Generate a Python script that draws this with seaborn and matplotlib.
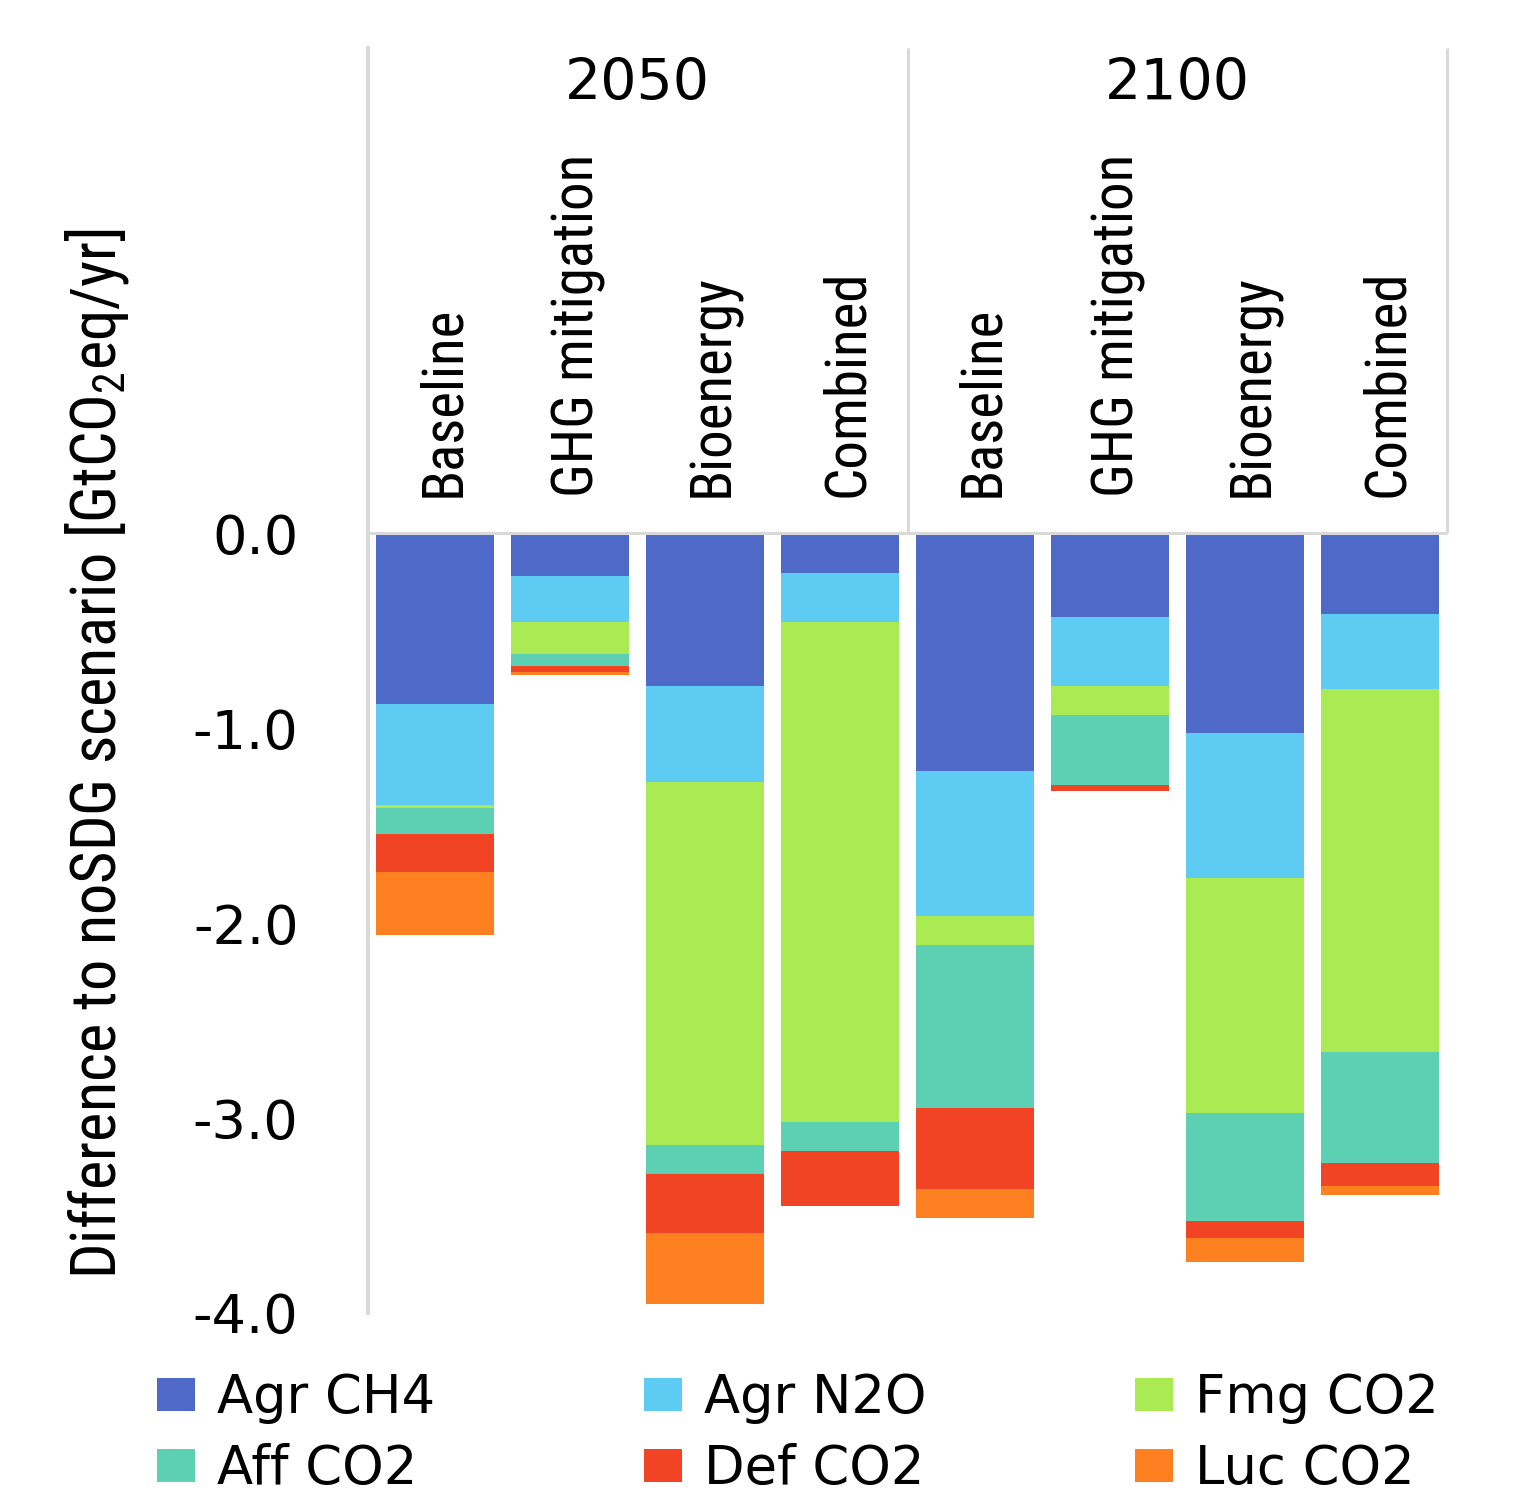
import numpy as np
import pandas as pd
import matplotlib
matplotlib.use("Agg")
import matplotlib.pyplot as plt
import matplotlib.transforms as mtransforms
from matplotlib import font_manager as fm
from matplotlib.patches import Patch
import seaborn as sns

# ---- data -------------------------------------------------------------
years = ["2050", "2100"]
scenarios = ["Baseline", "GHG mitigation", "Bioenergy", "Combined"]

components = ["Agr CH4", "Agr N2O", "Fmg CO2", "Aff CO2", "Def CO2", "Luc CO2"]
colors = ["#4F69C9", "#5ECBF2", "#AAEB53", "#5DCFB2", "#F04424", "#FF8020"]

# one value per bar: 2050 (4 scenarios) then 2100 (4 scenarios), GtCO2eq/yr
agr_ch4 = [-0.875, -0.219, -0.783, -0.204, -1.219, -0.429, -1.024, -0.414]
agr_n2o = [-0.518, -0.236, -0.492, -0.251, -0.743, -0.354, -0.744, -0.385]
fmg_co2 = [-0.015, -0.164, -1.862, -2.564, -0.149, -0.149, -1.205, -1.861]
aff_co2 = [-0.134, -0.062, -0.149, -0.149, -0.836, -0.359, -0.554, -0.569]
def_co2 = [-0.195, -0.031, -0.303, -0.282, -0.416, -0.031, -0.087, -0.118]
luc_co2 = [-0.326, -0.015, -0.367, 0.000, -0.149, 0.000, -0.123, -0.046]

yticks = [0.0, -1.0, -2.0, -3.0, -4.0]
ytick_labels = ["0.0", "-1.0", "-2.0", "-3.0", "-4.0"]
ylabel = "Difference to noSDG scenario [GtCO$_2$eq/yr]"

# ---- fonts ------------------------------------------------------------
sns.set_style("white")
available = {f.name for f in fm.fontManager.ttflist}


def pick(*names):
    for n in names:
        if n in available:
            return n
    return "DejaVu Sans"


narrow = pick("Liberation Sans Narrow", "DejaVu Sans Condensed", "Roboto Condensed", "Liberation Sans")
wide = "DejaVu Sans"
plt.rcParams["font.family"] = [wide]
plt.rcParams["text.color"] = "black"
plt.rcParams["mathtext.fontset"] = "custom"
plt.rcParams["mathtext.rm"] = narrow
plt.rcParams["mathtext.default"] = "regular"

# ---- long table -------------------------------------------------------
bar_ids = [f"{y} {s}" for y in years for s in scenarios]
values = np.array([agr_ch4, agr_n2o, fmg_co2, aff_co2, def_co2, luc_co2])
cum = np.cumsum(values, axis=0)
rows = []
for k, comp in enumerate(components):
    for i, b in enumerate(bar_ids):
        rows.append({"bar": b, "component": comp, "value": values[k, i], "cum": cum[k, i]})
df = pd.DataFrame(rows)

# ---- figure -----------------------------------------------------------
W, H = 1521, 1503
fig = plt.figure(figsize=(W / 100, H / 100), dpi=100)
ax = fig.add_axes([368 / W, 1 - 1313 / H, 1079 / W, 1265 / H])

grey = "#D9D9D9"
top = 2.49

# stacked bars: draw running totals from the deepest layer up
for k in range(len(components) - 1, -1, -1):
    sub = df[df["component"] == components[k]]
    sns.barplot(data=sub, x="bar", y="cum", order=bar_ids, color=colors[k],
                saturation=1, width=0.875, errorbar=None, linewidth=0,
                edgecolor="none", ax=ax, zorder=2)

ax.set_xlim(-0.5, len(bar_ids) - 0.5)
ax.set_ylim(-4.0, top)
ax.set_xticks([])
ax.set_xlabel("")
ax.set_ylabel("")
ax.set_axisbelow(False)

for s in ["top", "right", "bottom"]:
    ax.spines[s].set_visible(False)
ax.spines["left"].set_color(grey)
ax.spines["left"].set_linewidth(2.8)

ax.set_yticks(yticks)
ax.set_yticklabels(ytick_labels)
ax.tick_params(axis="y", direction="in", length=18, width=2.2, color=grey,
               pad=50, labelsize=39, labelcolor="black")

# header frame
lw = 2.2
ax.plot([-0.5, len(bar_ids) - 0.5], [0, 0], color=grey, lw=lw, zorder=3, clip_on=False,
        solid_capstyle="butt")
for xv in [3.5, 7.5]:
    ax.plot([xv, xv], [0, top], color=grey, lw=lw, zorder=3, clip_on=False,
            solid_capstyle="butt")

# year headers
for j, y in enumerate(years):
    ax.text(1.5 + 4 * j, 2.225, y, ha="center", va="baseline", fontsize=41,
            family=wide, color="black")

# scenario labels (rotated)
lab_fs = 41
shift = mtransforms.offset_copy(ax.transData, fig=fig, x=lab_fs * 0.72 / 2 + 2, y=0,
                                units="points")
for i in range(len(bar_ids)):
    ax.text(i, 0.185, scenarios[i % 4], rotation=90, rotation_mode="anchor",
            ha="left", va="baseline", fontsize=lab_fs, family=narrow,
            transform=shift, color="black")

# y-axis title
fig.text(97 / W, 1 - 753 / H, ylabel, rotation=90, ha="center", va="center",
         fontsize=45, family=narrow, color="black")

# legend, filled row by row
order = [0, 3, 1, 4, 2, 5]
handles = [Patch(facecolor=colors[k], edgecolor="none", label=components[k]) for k in order]
fig.legend(handles=handles, loc="upper left", bbox_to_anchor=(157 / W, 1 - 1372 / H),
           ncol=3, frameon=False, fontsize=38, handlelength=0.72, handleheight=0.6,
           handletextpad=0.42, columnspacing=3.95, labelspacing=0.36,
           borderaxespad=0, borderpad=0, labelcolor="black")

fig.savefig("out.png", dpi=100)
